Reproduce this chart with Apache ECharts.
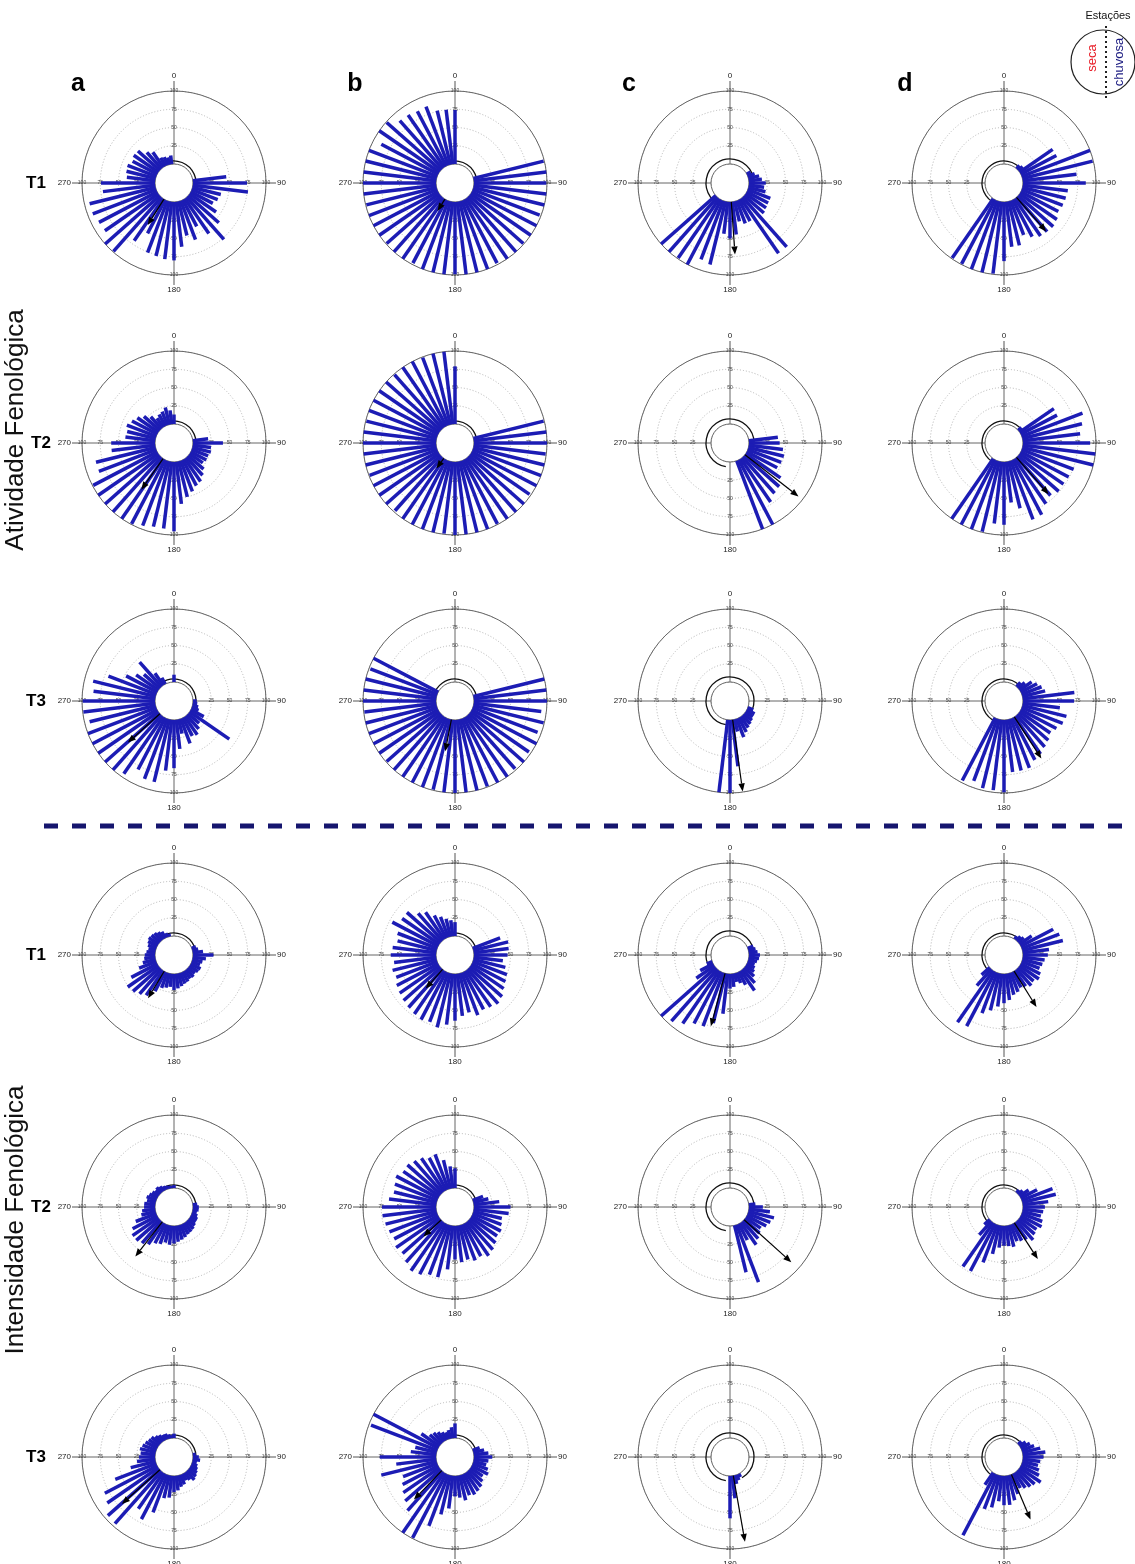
<!DOCTYPE html>
<html><head><meta charset="utf-8">
<script src="https://cdn.jsdelivr.net/npm/echarts/dist/echarts.min.js"></script>
<style>html,body{margin:0;padding:0;background:#fff}#c{width:1135px;height:1564px}</style>
</head><body><div id="c"></div>
<script>
// 52 weekly bins, bin k centred at k*360/52 degrees
const NBINS = 52;
// ---- Atividade Fenológica ----
const A_T1_a = [0,0,0,0,0,0,0,0,0,0,0,0,46,74,76,40,38,34,44,56,77,58,41,57,48,62,80,79,77,76,52,70,99,100,89,90,93,93,72,74,39,41,42,38,41,40,30,25,13,12,10,12];
const A_T1_b = [74,0,0,0,0,0,0,0,0,0,0,99,100,99,100,100,98,100,100,99,100,100,98,100,100,100,99,100,100,100,98,100,100,99,100,100,100,99,100,100,100,100,100,88,100,99,88,87,85,86,76,75];
const A_T1_c = [0,0,0,0,0,0,0,0,0,6,10,15,18,23,21,24,33,33,34,36,91,91,33,33,28,45,50,44,89,86,100,99,100,100,0,0,0,0,0,0,0,0,0,0,0,0,0,0,0,0,0,0];
const A_T1_d = [0,0,0,0,0,0,6,8,55,55,100,99,74,86,62,61,60,58,62,64,63,62,57,50,62,62,81,99,100,100,99,99,0,0,0,0,0,0,0,0,0,0,0,0,0,0,0,0,0,0,0,0];
const A_T2_a = [13,0,0,0,0,0,0,0,0,0,0,0,21,41,25,26,24,24,22,28,33,38,40,45,50,58,95,92,92,95,99,100,100,100,100,99,84,84,60,60,41,40,43,39,35,29,22,15,18,20,24,19];
const A_T2_b = [79,0,0,0,0,0,0,0,0,0,0,99,100,100,99,100,100,100,98,100,100,100,99,100,100,100,100,99,100,100,100,100,98,100,100,100,99,100,100,100,100,99,100,100,100,100,99,100,100,99,100,100];
const A_T2_c = [0,0,0,0,0,0,0,0,0,0,0,0,40,42,47,50,49,47,58,64,66,72,100,100,0,0,0,0,0,0,0,0,0,0,0,0,0,0,0,0,0,0,0,0,0,0,0,0,0,0,0,0];
const A_T2_d = [0,0,0,0,0,0,0,6,57,56,89,84,79,92,100,100,76,74,73,74,70,75,85,86,66,56,86,85,99,100,100,100,0,0,0,0,0,0,0,0,0,0,0,0,0,0,0,0,0,0,0,0];
const A_T3_a = [10,0,0,0,0,0,0,0,0,0,0,0,0,5,6,8,10,20,66,20,25,30,28,36,20,40,66,70,88,88,80,95,100,100,100,100,100,93,99,99,85,88,70,48,37,29,45,20,10,0,0,0];
const A_T3_b = [0,0,0,0,0,0,0,0,0,0,0,100,100,100,93,99,95,100,97,100,98,100,100,99,100,100,100,100,99,100,100,100,100,99,100,100,100,100,99,100,100,100,98,100,0,0,0,0,0,0,0,0];
const A_T3_c = [0,0,0,0,0,0,0,0,0,0,0,0,0,0,0,0,8,12,12,14,16,18,22,27,17,64,100,100,0,0,0,0,0,0,0,0,0,0,0,0,0,0,0,0,0,0,0,0,0,0,0,0];
const A_T3_d = [0,0,0,0,0,0,8,12,20,25,29,32,71,70,51,62,60,55,51,55,58,62,65,72,72,72,99,97,97,91,97,0,0,0,0,0,0,0,0,0,0,0,0,0,0,0,0,0,0,0,0,0];
// ---- Intensidade Fenológica ----
const I_T1_a = [0,0,0,0,0,0,0,0,0,0,6,8,14,28,18,14,12,15,14,12,14,13,15,16,18,20,22,18,20,22,30,41,45,49,51,40,25,18,15,14,12,10,12,14,16,15,14,12,10,6,4,0];
const I_T1_b = [19,0,0,0,0,0,0,0,0,0,40,49,48,46,40,45,50,52,55,60,63,60,58,62,55,58,64,70,76,72,74,72,70,68,66,64,60,62,58,62,60,55,58,71,62,62,50,45,35,30,25,22];
const I_T1_c = [0,0,0,0,0,0,0,0,0,0,8,10,12,15,14,12,10,12,14,18,25,33,20,15,12,18,20,55,70,78,80,88,95,100,30,20,8,0,0,0,0,0,0,0,0,0,0,0,0,0,0,0];
const I_T1_d = [0,0,0,0,0,5,8,10,20,50,55,57,36,34,30,28,26,30,32,28,30,26,24,28,30,36,40,45,52,59,84,86,30,15,0,0,0,0,0,0,0,0,0,0,0,0,0,0,0,0,0,0];
const I_T2_a = [4,0,0,0,0,0,0,0,0,0,0,0,6,8,8,6,8,10,10,12,14,15,16,18,20,22,24,26,24,28,30,36,40,43,43,38,30,20,18,15,15,12,14,12,10,8,10,8,6,5,4,3];
const I_T2_b = [27,0,0,0,0,0,0,0,0,0,15,21,35,50,48,40,42,45,44,48,52,55,50,52,48,50,46,60,73,73,78,80,75,70,72,68,70,72,74,74,65,60,62,65,60,61,58,55,50,51,40,30];
const I_T2_c = [0,0,0,0,0,0,0,0,0,0,0,0,9,19,29,36,33,30,25,28,32,37,25,84,66,0,0,0,0,0,0,0,0,0,0,0,0,0,0,0,0,0,0,0,0,0,0,0,0,0,0,0];
const I_T2_d = [0,0,0,0,0,0,5,8,15,25,45,47,35,30,28,26,30,32,28,30,34,28,26,24,30,28,27,30,40,55,73,73,25,10,0,0,0,0,0,0,0,0,0,0,0,0,0,0,0,0,0,0];
const I_T3_a = [6,0,0,0,0,0,0,0,0,0,0,0,4,8,10,6,8,10,12,14,16,12,10,14,16,20,22,30,32,55,70,60,96,95,85,81,60,35,25,22,20,22,20,18,16,15,12,10,8,8,6,4];
const I_T3_b = [20,0,0,0,0,0,0,0,0,0,10,15,20,25,20,18,22,25,20,24,28,30,32,30,35,30,28,45,55,75,99,100,72,65,60,55,50,78,55,77,35,30,97,100,30,20,18,15,12,10,12,15];
const I_T3_c = [0,0,0,0,0,0,0,0,0,0,0,0,0,0,0,0,0,0,0,0,0,0,5,8,12,31,58,0,0,0,0,0,0,0,0,0,0,0,0,0,0,0,0,0,0,0,0,0,0,0,0,0];
const I_T3_d = [0,0,0,0,0,0,0,6,10,14,18,25,31,28,24,22,25,28,35,30,28,25,22,28,35,40,40,35,45,50,95,20,0,0,0,0,0,0,0,0,0,0,0,0,0,0,0,0,0,0,0,0];

// mean vectors (angle in degrees, length on the 0-100 scale), per row, columns a-d
const arrowAngle_A_T1 = [212, 212, 176, 139];
const arrowLen_A_T1   = [42, 19, 72, 62];
const arrowAngle_A_T2 = [215, 216, 128, 139];
const arrowLen_A_T2   = [52, 17, 93, 67];
const arrowAngle_A_T3 = [228, 191, 172, 147];
const arrowLen_A_T3   = [59, 44, 99, 68];
const arrowAngle_I_T1 = [211, 221, 195, 148];
const arrowLen_I_T1   = [43, 35, 75, 58];
const arrowAngle_I_T2 = [218, 227, 132, 147];
const arrowLen_I_T2   = [60, 33, 87, 59];
const arrowAngle_I_T3 = [228, 224, 170, 157];
const arrowLen_I_T3   = [70, 55, 92, 67];

const radialTicks = [25, 50, 75, 100];
const crossAngles = [0, 90, 180, 270];
const colLabels = ['a', 'b', 'c', 'd'];
const rowLabels = ['T1', 'T2', 'T3', 'T1', 'T2', 'T3'];

// layout
const colX = [174, 455, 730, 1004];
const rowY = [183, 443, 701, 955, 1207, 1457];
const HOLE = 19, OUTER = 92;
const ringGap = [3, 3, 5, 3];

const rows = [
  [A_T1_a, A_T1_b, A_T1_c, A_T1_d],
  [A_T2_a, A_T2_b, A_T2_c, A_T2_d],
  [A_T3_a, A_T3_b, A_T3_c, A_T3_d],
  [I_T1_a, I_T1_b, I_T1_c, I_T1_d],
  [I_T2_a, I_T2_b, I_T2_c, I_T2_d],
  [I_T3_a, I_T3_b, I_T3_c, I_T3_d]
];
const arrowAngles = [arrowAngle_A_T1, arrowAngle_A_T2, arrowAngle_A_T3, arrowAngle_I_T1, arrowAngle_I_T2, arrowAngle_I_T3];
const arrowLens = [arrowLen_A_T1, arrowLen_A_T2, arrowLen_A_T3, arrowLen_I_T1, arrowLen_I_T2, arrowLen_I_T3];

const FONT = '"Liberation Sans", Arial, sans-serif';
const BAR_COLOR = '#1c1cb4';

const polar = [], angleAxis = [], radiusAxis = [], series = [];
let pi = 0;
rows.forEach((rowArr, r) => {
  rowArr.forEach((vals, c) => {
    polar.push({ center: [colX[c], rowY[r]], radius: [HOLE, OUTER] });
    angleAxis.push({
      polarIndex: pi, type: 'value', min: 0, max: 360, interval: 90,
      startAngle: 90, clockwise: true,
      axisLine: { show: true, lineStyle: { color: '#666', width: 1 } },
      axisTick: { show: true, length: 10, lineStyle: { color: '#555', width: 1 } },
      axisLabel: { show: true, margin: 11, fontSize: 8, color: '#222', fontFamily: FONT,
        formatter: v => (v === 360 ? '' : String(v)) },
      splitLine: { show: true, lineStyle: { color: '#666', width: 1 } }
    });
    radiusAxis.push({
      polarIndex: pi, type: 'value', min: 0, max: 100, interval: 25,
      axisLine: { show: false }, axisTick: { show: false }, axisLabel: { show: false },
      splitLine: { show: true, lineStyle: { color: '#b5b5b5', width: 1, type: [1, 2] } }
    });
    const gap = ringGap[c];
    // season ring (black arc just outside the hole)
    series.push({
      type: 'custom', coordinateSystem: 'polar', polarIndex: pi, silent: true, z: 2,
      data: [[0, 0]],
      renderItem: (params, api) => {
        const cs = params.coordSys;
        const rad = d => (d - 90) * Math.PI / 180;
        return { type: 'arc', shape: { cx: cs.cx, cy: cs.cy, r: cs.r0 + gap, startAngle: rad(190), endAngle: rad(510), clockwise: true },
          style: { stroke: '#111', lineWidth: 1.3, fill: 'none' } };
      }
    });
    // radial tick labels along the cross
    const tickData = [];
    crossAngles.forEach(a => radialTicks.forEach(t => tickData.push([t, a])));
    series.push({
      type: 'custom', coordinateSystem: 'polar', polarIndex: pi, silent: true, z: 2,
      data: tickData,
      renderItem: (params, api) => {
        const p = api.coord([api.value(0), api.value(1)]);
        return { type: 'text', x: p[0], y: p[1],
          style: { text: String(api.value(0)), fontSize: 5, fontFamily: FONT, fill: '#444', align: 'center', verticalAlign: 'middle' } };
      }
    });
    // bars
    const barData = [];
    vals.forEach((v, k) => { if (v > 0) barData.push([v, k * 360 / NBINS]); });
    series.push({
      type: 'custom', coordinateSystem: 'polar', polarIndex: pi, silent: true, z: 3,
      data: barData,
      renderItem: (params, api) => {
        const a = api.value(1);
        const p0 = api.coord([0, a]);
        const p1 = api.coord([api.value(0), a]);
        return { type: 'line', shape: { x1: p0[0], y1: p0[1], x2: p1[0], y2: p1[1] },
          style: { stroke: BAR_COLOR, lineWidth: 3.5, lineCap: 'butt' } };
      }
    });
    // mean vector arrow
    series.push({
      type: 'custom', coordinateSystem: 'polar', polarIndex: pi, silent: true, z: 4,
      data: [[arrowLens[r][c], arrowAngles[r][c]]],
      renderItem: (params, api) => {
        const a = api.value(1);
        const p0 = api.coord([0, a]);
        const p1 = api.coord([api.value(0), a]);
        const dx = p1[0] - p0[0], dy = p1[1] - p0[1];
        const L = Math.sqrt(dx * dx + dy * dy) || 1;
        const ux = dx / L, uy = dy / L;
        const hl = 8, hw = 3.2;
        const bx = p1[0] - ux * hl, by = p1[1] - uy * hl;
        return { type: 'group', children: [
          { type: 'line', shape: { x1: p0[0], y1: p0[1], x2: bx, y2: by }, style: { stroke: '#000', lineWidth: 1.2 } },
          { type: 'polygon', shape: { points: [[p1[0], p1[1]], [bx - uy * hw, by + ux * hw], [bx + uy * hw, by - ux * hw]] }, style: { fill: '#000' } }
        ] };
      }
    });
    pi++;
  });
});

const graphic = [];
colLabels.forEach((t, i) => {
  const xs = [78, 355, 629, 905];
  graphic.push({ type: 'text', x: xs[i], y: 84, style: { text: t, font: 'bold 25px ' + FONT, fill: '#000', align: 'center', verticalAlign: 'middle' } });
});
rowLabels.forEach((t, i) => {
  const xs = [36, 41, 36, 36, 41, 36];
  graphic.push({ type: 'text', x: xs[i], y: rowY[i], style: { text: t, font: 'bold 17px ' + FONT, fill: '#000', align: 'center', verticalAlign: 'middle' } });
});
graphic.push({ type: 'text', x: 16, y: 430, rotation: Math.PI / 2, style: { text: 'Atividade Fenológica', font: '26px ' + FONT, fill: '#111', align: 'center', verticalAlign: 'middle' } });
graphic.push({ type: 'text', x: 16, y: 1220, rotation: Math.PI / 2, style: { text: 'Intensidade Fenológica', font: '26px ' + FONT, fill: '#111', align: 'center', verticalAlign: 'middle' } });
graphic.push({ type: 'line', shape: { x1: 44, y1: 826, x2: 1135, y2: 826 }, style: { stroke: '#15156e', lineWidth: 5, lineDash: [14, 14] } });
// legend
graphic.push({ type: 'text', x: 1108, y: 16, style: { text: 'Estações', font: '11px ' + FONT, fill: '#111', align: 'center', verticalAlign: 'middle' } });
graphic.push({ type: 'circle', shape: { cx: 1103, cy: 62, r: 32 }, style: { fill: 'none', stroke: '#222', lineWidth: 1.2 } });
graphic.push({ type: 'line', shape: { x1: 1106, y1: 26, x2: 1106, y2: 98 }, style: { stroke: '#222', lineWidth: 2, lineDash: [2, 3] } });
graphic.push({ type: 'text', x: 1092, y: 58, rotation: Math.PI / 2, style: { text: 'seca', font: '13px ' + FONT, fill: '#e8202a', align: 'center', verticalAlign: 'middle' } });
graphic.push({ type: 'text', x: 1119, y: 62, rotation: Math.PI / 2, style: { text: 'chuvosa', font: '13px ' + FONT, fill: '#1a1a80', align: 'center', verticalAlign: 'middle' } });

const chart = echarts.init(document.getElementById('c'), null, { renderer: 'canvas' });
chart.setOption({
  animation: false,
  backgroundColor: '#fff',
  polar, angleAxis, radiusAxis, series, graphic
});
</script>
</body></html>
